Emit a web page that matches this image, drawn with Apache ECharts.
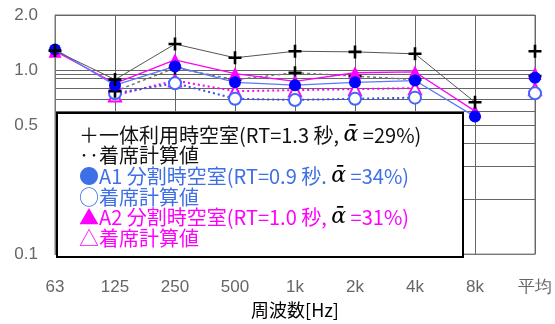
<!DOCTYPE html>
<html><head><meta charset="utf-8">
<script src="https://cdn.jsdelivr.net/npm/echarts@6/dist/echarts.min.js"></script>
<style>html,body{margin:0;padding:0;background:#fff}#c{width:555px;height:324px}</style>
</head><body><div id="c"></div>
<script>
const categories = ['63', '125', '250', '500', '1k', '2k', '4k', '8k', '平均'];
// 一体利用時空室 measured / 着席計算値
const unifiedMeasured = [1.28, 0.89, 1.39, 1.17, 1.27, 1.26, 1.23, 0.67];
const unifiedMeasuredAvg = 1.27;
const unifiedCalc = [null, 0.77, 1.03, 0.89, 0.97, 0.93, 0.89, null];
const unifiedCalcAvg = 0.93;
// A1 分割時空室
const a1Measured = [1.30, 0.83, 1.05, 0.86, 0.83, 0.86, 0.88, 0.56];
const a1MeasuredAvg = 0.91;
const a1Calc = [null, 0.75, 0.85, 0.70, 0.69, 0.70, 0.71, null];
const a1CalcAvg = 0.75;
// A2 分割時空室
const a2Measured = [1.27, 0.85, 1.14, 0.96, 0.87, 0.97, 0.98, 0.60];
const a2MeasuredAvg = 0.96;
const a2Calc = [null, 0.73, 0.88, 0.77, 0.78, 0.79, 0.80, null];
const a2CalcAvg = 0.79;
// axis ticks
const yGridValues = [0.1, 0.2, 0.3, 0.4, 0.5, 0.6, 0.7, 0.8, 0.9, 0.95, 1.0, 2.0];
const yLabelValues = [0.1, 0.5, 1.0, 2.0];

function lineData(arr) {
  return categories.map((c, i) => (i < arr.length && arr[i] != null) ? arr[i] : '-');
}
function avgData(v) {
  return categories.map((c, i) => i === categories.length - 1 ? v : '-');
}
const plusPath = 'path://M4,0H6V4H10V6H6V10H4V6H0V4H4Z';
const BLUE = '#0000FF', BLUE_LINE = '#5A78FF', MAG = '#FF00FF';

function pair(name, arr, avg, opts) {
  const base = {
    type: 'line', symbol: opts.symbol, symbolSize: opts.size, z: opts.z,
    itemStyle: { color: opts.color, borderWidth: opts.bw || 0 },
    lineStyle: opts.line, showSymbol: true, connectNulls: false, animation: false
  };
  return [
    Object.assign({}, base, { name: name, data: lineData(arr) }),
    Object.assign({}, base, { name: name + '平均', data: avgData(avg) })
  ];
}

const series = [].concat(
  pair('A2着席計算値', a2Calc, a2CalcAvg, { symbol: 'emptyTriangle', size: 12, z: 2, color: MAG, bw: 1.3,
    line: { color: MAG, width: 2, type: [2, 3] } }),
  pair('A1着席計算値', a1Calc, a1CalcAvg, { symbol: 'emptyCircle', size: 12, z: 3, color: '#4466FF', bw: 1.3,
    line: { color: '#3355EE', width: 2, type: [2, 3] } }),
  pair('一体着席計算値', unifiedCalc, unifiedCalcAvg, { symbol: plusPath, size: 13, z: 4, color: '#000',
    line: { color: '#777', width: 1.5, type: [3, 3] } }),
  pair('A2分割時空室', a2Measured, a2MeasuredAvg, { symbol: 'triangle', size: 13, z: 5, color: MAG,
    line: { color: MAG, width: 1.3 } }),
  pair('A1分割時空室', a1Measured, a1MeasuredAvg, { symbol: 'circle', size: 12, z: 6, color: BLUE,
    line: { color: BLUE_LINE, width: 1.3 } }),
  pair('一体利用時空室', unifiedMeasured, unifiedMeasuredAvg, { symbol: plusPath, size: 13, z: 7, color: '#000',
    line: { color: '#555', width: 1 } })
);

const chart = echarts.init(document.getElementById('c'), null, { renderer: 'canvas' });
const legendText = [
  '{k|＋一体利用時空室(RT=1.3 秒, }{a|ᾱ}{k| =29%)}',
  '{k|‥着席計算値}',
  '{b|●A1 分割時空室(RT=0.9 秒. }{a|ᾱ}{b| =34%)}',
  '{b|○着席計算値}',
  '{m|▲A2 分割時空室(RT=1.0 秒, }{a|ᾱ}{m| =31%)}',
  '{m|△着席計算値}'
].join('\n');
const FONT = '"Noto Sans CJK JP", sans-serif';
chart.setOption({
  animation: false,
  backgroundColor: '#fff',
  grid: { left: 55, right: 19, top: 15, bottom: 61, show: true, borderColor: '#777', borderWidth: 1, containLabel: false },
  xAxis: {
    type: 'category', data: categories, boundaryGap: false,
    axisLine: { show: true, lineStyle: { color: '#777' } },
    axisTick: { show: false },
    axisLabel: { color: '#666', fontSize: 17, fontFamily: 'Liberation Sans', margin: 25, interval: 0 },
    splitLine: { show: true, lineStyle: { color: '#666', width: 1 } },
    name: '周波数[Hz]', nameLocation: 'middle', nameGap: 42,
    nameTextStyle: { color: '#000', fontSize: 18, fontFamily: FONT }
  },
  yAxis: {
    type: 'log', logBase: 10, min: 0.1, max: 2.0,
    axisLine: { show: true, lineStyle: { color: '#777' } },
    axisTick: { show: false, customValues: yGridValues },
    axisLabel: { customValues: yLabelValues, color: '#666', fontSize: 17, fontFamily: 'Liberation Sans', margin: 17,
      padding: [0, 0, 6, 0], formatter: v => Number(v).toFixed(1) },
    splitLine: { show: true, lineStyle: { color: '#666', width: 1 } },
    minorSplitLine: { show: false }
  },
  series: series,
  graphic: [
    { type: 'rect', z: 100, shape: { x: 57, y: 113, width: 406, height: 144 },
      style: { fill: '#fff', stroke: '#000', lineWidth: 2 } },
    { type: 'text', z: 101, x: 79, y: 125,
      style: {
        text: legendText, verticalAlign: 'top', align: 'left',
        fontFamily: FONT, fontSize: 20, lineHeight: 20.6, fill: '#000',
        rich: {
          k: { fill: '#111', fontFamily: FONT, fontSize: 20, lineHeight: 20.6 },
          b: { fill: '#3F6FE6', fontFamily: FONT, fontSize: 20, lineHeight: 20.6 },
          m: { fill: '#FF00FF', fontFamily: FONT, fontSize: 20, lineHeight: 20.6 },
          a: { fill: '#000', fontFamily: 'DejaVu Serif', fontStyle: 'italic', fontSize: 22, lineHeight: 20.6 }
        }
      } }
  ]
});
</script></body></html>
